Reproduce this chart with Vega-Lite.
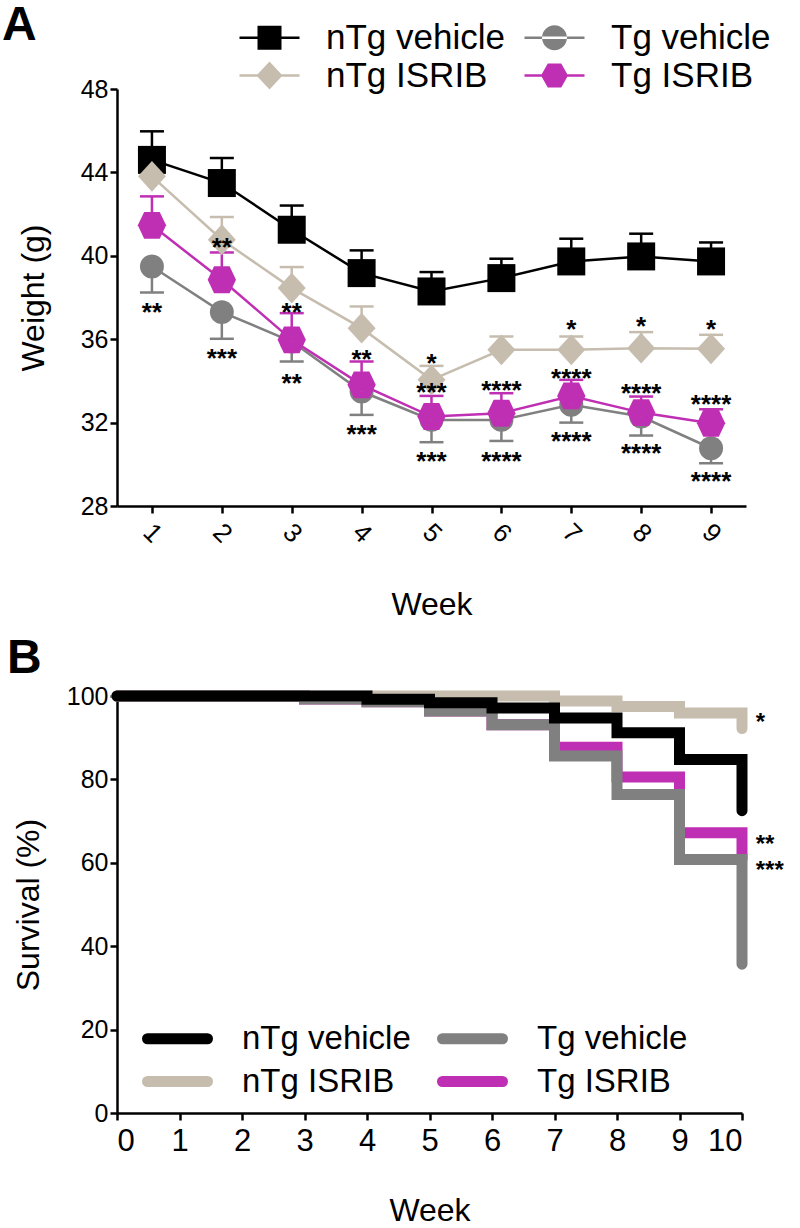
{
  "$schema": "https://vega.github.io/schema/vega-lite/v6.json",
  "background": "white",
  "padding": {"left": 2, "top": 2, "right": 5, "bottom": 2},
  "bounds": "flush",
  "spacing": 190,
  "resolve": {
    "scale": {"color": "independent", "fill": "independent", "stroke": "independent", "shape": "independent"},
    "legend": {"color": "independent", "fill": "independent", "stroke": "independent", "shape": "independent"}
  },
  "config": {
    "view": {"stroke": null},
    "font": "Liberation Sans",
    "axis": {
      "domainColor": "black", "domainWidth": 2.5, "tickColor": "black", "tickWidth": 2.5,
      "labelColor": "black", "titleColor": "black", "titleFontWeight": "normal",
      "labelFont": "Liberation Sans", "titleFont": "Liberation Sans", "grid": false, "tickSize": 7
    },
    "legend": {"labelFont": "Liberation Sans", "labelColor": "black", "labelLimit": 400}
  },
  "datasets": {
    "weight": [
      {"week": 1, "group": "nTg vehicle", "mean": 44.6, "bar": 45.97},
      {"week": 2, "group": "nTg vehicle", "mean": 43.49, "bar": 44.69},
      {"week": 3, "group": "nTg vehicle", "mean": 41.25, "bar": 42.41},
      {"week": 4, "group": "nTg vehicle", "mean": 39.17, "bar": 40.26},
      {"week": 5, "group": "nTg vehicle", "mean": 38.29, "bar": 39.22},
      {"week": 6, "group": "nTg vehicle", "mean": 38.93, "bar": 39.86},
      {"week": 7, "group": "nTg vehicle", "mean": 39.73, "bar": 40.82},
      {"week": 8, "group": "nTg vehicle", "mean": 39.97, "bar": 41.06},
      {"week": 9, "group": "nTg vehicle", "mean": 39.73, "bar": 40.64},
      {"week": 1, "group": "nTg ISRIB", "mean": 43.81, "bar": 45.09},
      {"week": 2, "group": "nTg ISRIB", "mean": 40.77, "bar": 41.86},
      {"week": 3, "group": "nTg ISRIB", "mean": 38.45, "bar": 39.46},
      {"week": 4, "group": "nTg ISRIB", "mean": 36.53, "bar": 37.57},
      {"week": 5, "group": "nTg ISRIB", "mean": 34.05, "bar": 34.72},
      {"week": 6, "group": "nTg ISRIB", "mean": 35.49, "bar": 36.13},
      {"week": 7, "group": "nTg ISRIB", "mean": 35.49, "bar": 36.13},
      {"week": 8, "group": "nTg ISRIB", "mean": 35.57, "bar": 36.34},
      {"week": 9, "group": "nTg ISRIB", "mean": 35.54, "bar": 36.21},
      {"week": 1, "group": "Tg vehicle", "mean": 39.49, "bar": 38.24},
      {"week": 2, "group": "Tg vehicle", "mean": 37.3, "bar": 36.02},
      {"week": 3, "group": "Tg vehicle", "mean": 35.89, "bar": 34.93},
      {"week": 4, "group": "Tg vehicle", "mean": 33.49, "bar": 32.37},
      {"week": 5, "group": "Tg vehicle", "mean": 32.13, "bar": 31.06},
      {"week": 6, "group": "Tg vehicle", "mean": 32.13, "bar": 31.12},
      {"week": 7, "group": "Tg vehicle", "mean": 32.85, "bar": 32.0},
      {"week": 8, "group": "Tg vehicle", "mean": 32.29, "bar": 31.38},
      {"week": 9, "group": "Tg vehicle", "mean": 30.77, "bar": 30.05},
      {"week": 1, "group": "Tg ISRIB", "mean": 41.46, "bar": 42.85},
      {"week": 2, "group": "Tg ISRIB", "mean": 38.85, "bar": 40.16},
      {"week": 3, "group": "Tg ISRIB", "mean": 35.97, "bar": 37.25},
      {"week": 4, "group": "Tg ISRIB", "mean": 33.81, "bar": 34.93},
      {"week": 5, "group": "Tg ISRIB", "mean": 32.29, "bar": 33.28},
      {"week": 6, "group": "Tg ISRIB", "mean": 32.45, "bar": 33.41},
      {"week": 7, "group": "Tg ISRIB", "mean": 33.28, "bar": 34.05},
      {"week": 8, "group": "Tg ISRIB", "mean": 32.48, "bar": 33.25},
      {"week": 9, "group": "Tg ISRIB", "mean": 31.97, "bar": 32.64}
    ],
    "stars": [
      {"week": 1, "y": 37.57, "label": "**"},
      {"week": 2, "y": 40.69, "label": "**"},
      {"week": 2, "y": 35.41, "label": "***"},
      {"week": 3, "y": 37.57, "label": "**"},
      {"week": 3, "y": 34.21, "label": "**"},
      {"week": 4, "y": 35.33, "label": "**"},
      {"week": 4, "y": 31.73, "label": "***"},
      {"week": 5, "y": 35.17, "label": "*"},
      {"week": 5, "y": 33.76, "label": "***"},
      {"week": 5, "y": 30.45, "label": "***"},
      {"week": 6, "y": 33.86, "label": "****"},
      {"week": 6, "y": 30.45, "label": "****"},
      {"week": 7, "y": 36.77, "label": "*"},
      {"week": 7, "y": 34.45, "label": "****"},
      {"week": 7, "y": 31.41, "label": "****"},
      {"week": 8, "y": 36.93, "label": "*"},
      {"week": 8, "y": 33.73, "label": "****"},
      {"week": 8, "y": 30.85, "label": "****"},
      {"week": 9, "y": 36.77, "label": "*"},
      {"week": 9, "y": 33.17, "label": "****"},
      {"week": 9, "y": 29.49, "label": "****"}
    ],
    "survival": [
      {"group": "Tg ISRIB", "week": 0, "pct": 100},
      {"group": "Tg ISRIB", "week": 3, "pct": 99.3},
      {"group": "Tg ISRIB", "week": 4, "pct": 98.6},
      {"group": "Tg ISRIB", "week": 5, "pct": 96.4},
      {"group": "Tg ISRIB", "week": 6, "pct": 93.1},
      {"group": "Tg ISRIB", "week": 7, "pct": 87.7},
      {"group": "Tg ISRIB", "week": 8, "pct": 80.6},
      {"group": "Tg ISRIB", "week": 9, "pct": 67.2},
      {"group": "Tg ISRIB", "week": 10, "pct": 61.0},
      {"group": "Tg vehicle", "week": 0, "pct": 100},
      {"group": "Tg vehicle", "week": 3, "pct": 99.3},
      {"group": "Tg vehicle", "week": 4, "pct": 98.6},
      {"group": "Tg vehicle", "week": 5, "pct": 96.4},
      {"group": "Tg vehicle", "week": 6, "pct": 93.1},
      {"group": "Tg vehicle", "week": 7, "pct": 85.6},
      {"group": "Tg vehicle", "week": 8, "pct": 76.4},
      {"group": "Tg vehicle", "week": 9, "pct": 60.8},
      {"group": "Tg vehicle", "week": 10, "pct": 35.7},
      {"group": "nTg ISRIB", "week": 0, "pct": 100},
      {"group": "nTg ISRIB", "week": 7, "pct": 98.8},
      {"group": "nTg ISRIB", "week": 8, "pct": 97.5},
      {"group": "nTg ISRIB", "week": 9, "pct": 95.9},
      {"group": "nTg ISRIB", "week": 10, "pct": 92.2},
      {"group": "nTg vehicle", "week": 0, "pct": 100},
      {"group": "nTg vehicle", "week": 4, "pct": 99.2},
      {"group": "nTg vehicle", "week": 5, "pct": 98.4},
      {"group": "nTg vehicle", "week": 6, "pct": 97.1},
      {"group": "nTg vehicle", "week": 7, "pct": 94.7},
      {"group": "nTg vehicle", "week": 8, "pct": 91.2},
      {"group": "nTg vehicle", "week": 9, "pct": 84.8},
      {"group": "nTg vehicle", "week": 10, "pct": 72.5}
    ],
    "survstars": [
      {"week": 10.22, "pct": 95.2, "label": "*"},
      {"week": 10.22, "pct": 66.0, "label": "**"},
      {"week": 10.22, "pct": 59.6, "label": "***"}
    ]
  },
  "vconcat": [
    {
      "width": 629,
      "height": 417,
      "title": {"text": "A", "anchor": "start", "frame": "group", "fontSize": 48, "fontWeight": "bold", "font": "Liberation Sans", "color": "black", "dx": -115, "dy": 30, "offset": 0},
      "data": {"name": "weight"},
      "resolve": {"scale": {"shape": "independent", "color": "independent"}},
      "encoding": {
        "x": {"field": "week", "type": "quantitative", "scale": {"domain": [0.5, 9.5], "nice": false, "zero": false},
          "axis": {"values": [1, 2, 3, 4, 5, 6, 7, 8, 9], "labelAngle": 45, "labelAlign": "center", "labelBaseline": "middle", "labelPadding": 20, "labelFontSize": 26, "title": "Week", "titleFontSize": 32, "titleY": 98, "titleBaseline": "middle"}},
        "color": {"field": "group", "type": "nominal", "legend": null,
          "scale": {"domain": ["nTg vehicle", "nTg ISRIB", "Tg vehicle", "Tg ISRIB"], "range": ["#000000", "#c6bdaf", "#808080", "#bf2fb4"]}}
      },
      "layer": [
        {
          "mark": {"type": "line", "strokeWidth": 2.5},
          "encoding": {"y": {"field": "mean", "type": "quantitative", "scale": {"domain": [28, 48], "nice": false, "zero": false},
            "axis": {"values": [28, 32, 36, 40, 44, 48], "labelFontSize": 25, "labelPadding": 2, "title": "Weight (g)", "titleFontSize": 32, "titleX": -84, "titleBaseline": "middle"}}}
        },
        {
          "mark": {"type": "rule", "strokeWidth": 2.5},
          "encoding": {"y": {"field": "mean", "type": "quantitative"}, "y2": {"field": "bar"}}
        },
        {
          "mark": {"type": "tick", "orient": "horizontal", "size": 24, "thickness": 2.5, "opacity": 1},
          "encoding": {"y": {"field": "bar", "type": "quantitative"}}
        },
        {
          "transform": [{"filter": "datum.group === 'nTg vehicle'"}],
          "mark": {"type": "point", "filled": true, "opacity": 1, "size": 784, "shape": "square"},
          "encoding": {"y": {"field": "mean", "type": "quantitative"}}
        },
        {
          "transform": [{"filter": "datum.group === 'nTg ISRIB'"}],
          "mark": {"type": "point", "filled": true, "opacity": 1, "size": 784, "shape": "M0,-1.1L1,0L0,1.1L-1,0Z"},
          "encoding": {"y": {"field": "mean", "type": "quantitative"}}
        },
        {
          "transform": [{"filter": "datum.group === 'Tg vehicle'"}],
          "mark": {"type": "point", "filled": true, "opacity": 1, "size": 573, "shape": "circle"},
          "encoding": {"y": {"field": "mean", "type": "quantitative"}}
        },
        {
          "transform": [{"filter": "datum.group === 'Tg ISRIB'"}],
          "mark": {"type": "point", "filled": true, "opacity": 1, "size": 800, "shape": "M-1,0L-0.55,-0.95L0.55,-0.95L1,0L0.55,0.95L-0.55,0.95Z"},
          "encoding": {"y": {"field": "mean", "type": "quantitative"}}
        },
        {
          "data": {"name": "stars"},
          "mark": {"type": "text", "fontSize": 26, "fontWeight": "bold", "baseline": "alphabetic", "align": "center", "dy": 15},
          "encoding": {"x": {"field": "week", "type": "quantitative"}, "y": {"field": "y", "type": "quantitative"}, "text": {"field": "label"}, "color": {"value": "black"}}
        },
        {
          "mark": {"type": "point", "filled": true, "opacity": 1, "strokeWidth": 0, "size": 1},
          "encoding": {
            "y": {"field": "mean", "type": "quantitative"},
            "color": {"field": "group", "type": "nominal",
              "scale": {"domain": ["nTg vehicle", "nTg ISRIB", "Tg vehicle", "Tg ISRIB"], "range": ["#000000", "#c6bdaf", "#808080", "#bf2fb4"]},
              "legend": {"orient": "none", "legendX": 135, "legendY": -69, "columns": 2, "title": null, "padding": 0, "symbolSize": 900, "symbolStrokeWidth": 0, "labelFontSize": 35, "labelOffset": 39, "columnPadding": 19, "rowPadding": 2}},
            "shape": {"field": "group", "type": "nominal", "scale": {"domain": ["nTg vehicle", "nTg ISRIB", "Tg vehicle", "Tg ISRIB"],
              "range": [
                "M-2,-0.08H2V0.08H-2Z M-0.8,-0.8H0.8V0.8H-0.8Z",
                "M-2,-0.08H2V0.08H-2Z M0,-0.93L0.87,0L0,0.93L-0.87,0Z",
                "M-2,-0.08H2V0.08H-2Z M-0.83,0A0.83,0.83,0,1,0,0.83,0A0.83,0.83,0,1,0,-0.83,0Z",
                "M-2,-0.08H2V0.08H-2Z M-0.9,0L-0.45,-0.8L0.45,-0.8L0.9,0L0.45,0.8L-0.45,0.8Z"]},
              "legend": {"orient": "none", "legendX": 135, "legendY": -69, "columns": 2, "title": null, "padding": 0, "symbolSize": 900, "symbolStrokeWidth": 0, "labelFontSize": 35, "labelOffset": 39, "columnPadding": 19, "rowPadding": 2}}
          }
        }
      ]
    },
    {
      "width": 625,
      "height": 417,
      "title": {"text": "B", "anchor": "start", "frame": "group", "fontSize": 48, "fontWeight": "bold", "font": "Liberation Sans", "color": "black", "dx": -110, "dy": 9, "offset": 0},
      "encoding": {
        "x": {"field": "week", "type": "quantitative", "scale": {"domain": [0, 10], "nice": false},
          "axis": {"values": [0, 1, 2, 3, 4, 5, 6, 7, 8, 9, 10], "labelFontSize": 31, "labelPadding": 6, "title": "Week", "titleFontSize": 32, "titleY": 97, "titleBaseline": "middle"}},
        "y": {"field": "pct", "type": "quantitative", "scale": {"domain": [0, 100], "nice": false},
          "axis": {"values": [0, 20, 40, 60, 80, 100], "labelFontSize": 25, "labelPadding": 2, "title": "Survival (%)", "titleFontSize": 32, "titleX": -89, "titleBaseline": "middle"}}
      },
      "layer": [
        {
          "data": {"name": "survival"},
          "mark": {"type": "line", "interpolate": "step-after", "strokeWidth": 11, "strokeCap": "round", "clip": false},
          "encoding": {
            "color": {"field": "group", "type": "nominal", "sort": null,
              "scale": {"domain": ["nTg vehicle", "nTg ISRIB", "Tg vehicle", "Tg ISRIB"], "range": ["#000000", "#c6bdaf", "#808080", "#bf2fb4"]},
              "legend": {"orient": "none", "legendX": 40, "legendY": 322, "columns": 2, "title": null, "padding": 0, "symbolType": "M-2,0H2", "symbolSize": 900, "symbolStrokeWidth": 11, "labelFontSize": 33, "labelOffset": 44, "columnPadding": 9, "rowPadding": -5,
                "encode": {"symbols": {"update": {"strokeCap": {"value": "round"}}}}}
            }
          }
        },
        {
          "data": {"name": "survstars"},
          "mark": {"type": "text", "fontSize": 24, "fontWeight": "bold", "baseline": "alphabetic", "align": "left", "dy": 14, "color": "black"},
          "encoding": {"text": {"field": "label"}}
        }
      ]
    }
  ]
}
